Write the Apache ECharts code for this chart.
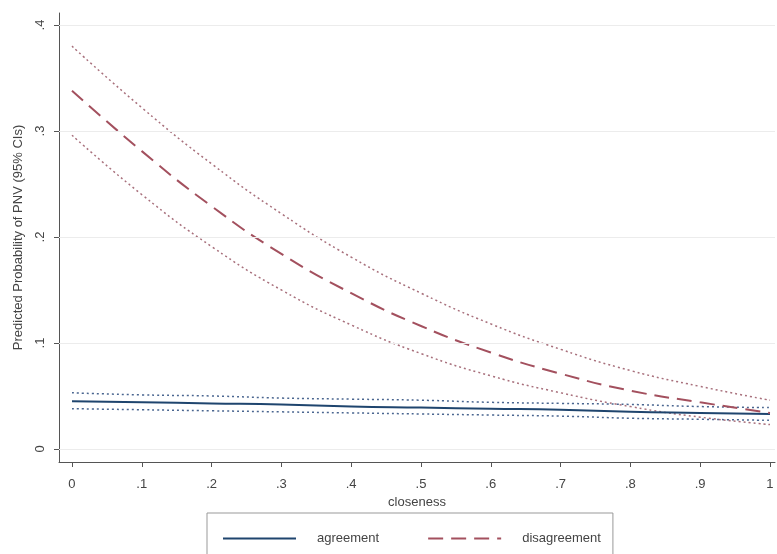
<!DOCTYPE html>
<html>
<head>
<meta charset="utf-8">
<script src="https://cdn.jsdelivr.net/npm/echarts@6/dist/echarts.min.js"></script>
<style>html,body{margin:0;padding:0;background:#fff;}#c{width:777px;height:554px;}</style>
</head>
<body>
<div id="c"></div>
<script>
const closeness = [0, 0.1, 0.2, 0.3, 0.4, 0.5, 0.6, 0.7, 0.8, 0.9, 1];
const xTicks = [0, 0.1, 0.2, 0.3, 0.4, 0.5, 0.6, 0.7, 0.8, 0.9, 1];
const yTicks = [0, 0.1, 0.2, 0.3, 0.4];
const agrMean  = [0.045, 0.044, 0.043, 0.042, 0.040, 0.039, 0.038, 0.037, 0.035, 0.034, 0.033];
const agrUpper = [0.053, 0.051, 0.050, 0.048, 0.047, 0.046, 0.044, 0.043, 0.042, 0.040, 0.039];
const agrLower = [0.038, 0.037, 0.036, 0.035, 0.034, 0.033, 0.032, 0.031, 0.029, 0.028, 0.027];
const disMean  = [0.338, 0.281, 0.229, 0.184, 0.147, 0.116, 0.091, 0.071, 0.055, 0.044, 0.034];
const disUpper = [0.380, 0.322, 0.269, 0.222, 0.181, 0.147, 0.118, 0.094, 0.074, 0.059, 0.046];
const disLower = [0.296, 0.240, 0.191, 0.150, 0.117, 0.090, 0.069, 0.053, 0.040, 0.030, 0.023];

const pairs = arr => closeness.map((x, i) => [x, arr[i]]);
const fmt = v => {
  if (Math.abs(v) < 1e-9) return '0';
  if (Math.abs(v - 1) < 1e-9) return '1';
  return ('' + Math.round(v * 10) / 10).replace(/^0/, '');
};
const FONT = 'Liberation Sans, Arial, sans-serif';
const navy = '#1f456e';
const navyCI = '#4a6690';
const maroon = '#a3505e';
const maroonCI = '#a8707c';

const chart = echarts.init(document.getElementById('c'), null, {renderer: 'canvas'});
chart.setOption({
  backgroundColor: '#ffffff',
  animation: false,
  textStyle: {fontFamily: FONT},
  grid: {left: 59, right: 2, top: 13, bottom: 92, containLabel: false},
  xAxis: {
    type: 'value',
    min: -0.0186, max: 1.0072,
    name: 'closeness', nameLocation: 'middle', nameGap: 32,
    nameTextStyle: {color: '#444', fontSize: 13, fontFamily: FONT},
    axisLine: {show: true, onZero: false, lineStyle: {color: '#555', width: 1}},
    axisTick: {show: true, length: 5, customValues: xTicks, lineStyle: {color: '#555'}},
    axisLabel: {customValues: xTicks, formatter: fmt, color: '#444', fontSize: 13, margin: 16, fontFamily: FONT},
    splitLine: {show: false}
  },
  yAxis: {
    type: 'value',
    min: -0.0123, max: 0.4113,
    name: 'Predicted Probability of PNV (95% CIs)', nameLocation: 'middle', nameGap: 34,
    nameTextStyle: {color: '#444', fontSize: 13, fontFamily: FONT},
    axisLine: {show: true, onZero: false, lineStyle: {color: '#555', width: 1}},
    axisTick: {show: true, length: 5, customValues: yTicks, lineStyle: {color: '#555'}},
    axisLabel: {customValues: yTicks, formatter: fmt, rotate: 90, color: '#444', fontSize: 13, margin: 12, fontFamily: FONT},
    splitLine: {show: false}
  },
  legend: {
    data: ['agreement', 'disagreement'],
    left: 207, top: 513,
    orient: 'horizontal',
    padding: [19, 12, 19, 15],
    borderColor: '#999', borderWidth: 1,
    itemWidth: 73, itemHeight: 12, itemGap: 48,
    itemStyle: {opacity: 0},
    textStyle: {color: '#444', fontSize: 13, fontFamily: FONT, padding: [0, 0, 0, 16]}
  },
  series: [
    {
      name: 'grid', type: 'line', data: [], silent: true,
      markLine: {
        silent: true, symbol: 'none', label: {show: false},
        lineStyle: {color: '#ececec', width: 1, type: 'solid'},
        data: yTicks.map(v => ({yAxis: v}))
      }
    },
    {name: 'agrUpper', type: 'line', data: pairs(agrUpper), smooth: true, showSymbol: false, symbol: 'none',
     lineStyle: {color: navyCI, width: 1.5, type: [2, 3]}, z: 3},
    {name: 'agrLower', type: 'line', data: pairs(agrLower), smooth: true, showSymbol: false, symbol: 'none',
     lineStyle: {color: navyCI, width: 1.5, type: [2, 3]}, z: 3},
    {name: 'disUpper', type: 'line', data: pairs(disUpper), smooth: true, showSymbol: false, symbol: 'none',
     lineStyle: {color: maroonCI, width: 1.5, type: [2, 3]}, z: 3},
    {name: 'disLower', type: 'line', data: pairs(disLower), smooth: true, showSymbol: false, symbol: 'none',
     lineStyle: {color: maroonCI, width: 1.5, type: [2, 3]}, z: 3},
    {name: 'agreement', type: 'line', data: pairs(agrMean), smooth: true, showSymbol: false, symbol: 'none',
     itemStyle: {color: navy}, lineStyle: {color: navy, width: 2}, z: 4},
    {name: 'disagreement', type: 'line', data: pairs(disMean), smooth: true, showSymbol: false, symbol: 'none',
     itemStyle: {color: maroon}, lineStyle: {color: maroon, width: 2, type: [15, 8]}, z: 4}
  ]
});
</script>
</body>
</html>
